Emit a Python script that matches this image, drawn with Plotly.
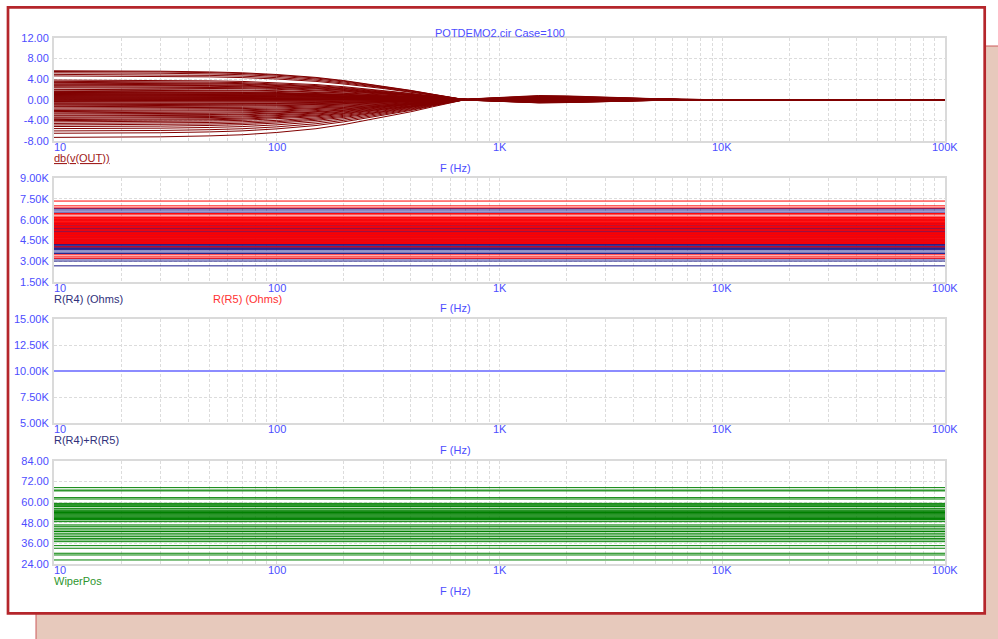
import math
import plotly.graph_objects as go

W, H = 998, 639

# ---------------- data ----------------
freq_hz = [10, 20, 30, 50, 70, 100, 150, 200, 300, 400, 500, 600, 700, 800,
           1000, 1200, 1500, 2000, 2500, 3000, 4000, 5000, 7000, 10000, 100000]
# relative response of each case versus frequency (1 = low-frequency level)
db_shape = [1.0, 0.995, 0.985, 0.96, 0.93, 0.87, 0.77, 0.66, 0.47, 0.32, 0.19, 0.08, 0.0, -0.03,
            -0.06, -0.09, -0.11, -0.10, -0.08, -0.06, -0.035, -0.02, 0.0, 0.0, 0.0]
# low-frequency level of each Monte-Carlo case, dB
db_levels = [5.6, 5.45, 5.2, 4.9, 4.6, 3.8, 3.55, 3.35, 3.2, 3.0, 2.85, 2.7, 2.5, 2.3, 2.0,
             1.85, 1.6, 1.5, 1.4, 1.3, 1.2, 1.1, 1.0, 0.9, 0.8, 0.7, 0.6, 0.5, 0.4, 0.3,
             0.2, 0.1, 0.0, -0.1, -0.2, -0.35, -0.5, -0.7, -0.85, -1.0, -1.2, -1.35, -1.6,
             -1.85, -2.1, -2.3, -2.55, -2.75, -3.0, -3.15, -3.4, -3.6, -3.85, -4.05, -4.3,
             -4.6, -4.9, -5.2, -5.6, -6.05, -6.5, -7.3]
# R5 of each case, ohms (R4 = 10K - R5)
r5_ohms = [7350, 7000, 6850, 6450, 6350, 6200, 6150, 6100, 6050, 6000, 5950, 5900, 5850,
           5800, 5750, 5700, 5650, 5600, 5500, 5450, 5400, 5300, 5250, 5200, 5100, 5050,
           5000, 4950, 4900, 4850, 4800, 4750, 4700, 4650, 4600, 4550, 4500, 4450, 4400,
           4350, 4300, 4260, 4030, 3450, 3300, 3200]
pot_total = 10000
# wiper position of each case
wiper_pos = [68.4, 67.0, 66.5, 62.6, 61.8, 59.3, 58.8, 58.3, 57.8, 57.4, 56.4, 55.5, 55.0,
             54.5, 54.0, 53.5, 53.0, 52.5, 52.0, 51.5, 51.0, 50.5, 50.0, 49.7, 48.7, 46.8,
             46.0, 44.9, 43.9, 43.0, 42.0, 41.0, 40.0, 39.0, 38.1, 37.1, 34.8, 33.3, 30.4,
             29.4, 26.5]

f_start, f_stop = 10, 100000
xtick_vals = [10, 100, 1000, 10000, 100000]
xtick_text = ["10", "100", "1K", "10K", "100K"]

y1_ticks = [-8, -4, 0, 4, 8, 12]
y1_text = ["-8.00", "-4.00", "0.00", "4.00", "8.00", "12.00"]
y2_ticks = [1500, 3000, 4500, 6000, 7500, 9000]
y2_text = ["1.50K", "3.00K", "4.50K", "6.00K", "7.50K", "9.00K"]
y3_ticks = [5000, 7500, 10000, 12500, 15000]
y3_text = ["5.00K", "7.50K", "10.00K", "12.50K", "15.00K"]
y4_ticks = [24, 36, 48, 60, 72, 84]
y4_text = ["24.00", "36.00", "48.00", "60.00", "72.00", "84.00"]

# ---------------- helpers ----------------
def px(x):
    return x / W

def py(y):
    return 1 - y / H

BLUE = "#4d4dff"
GRID = "#dcdcdc"
FRAME = "#dadada"
FONT = "Arial, Liberation Sans, sans-serif"

fig = go.Figure()

# plot 1: db(v(OUT))
xs, ys = [], []
for lv in db_levels:
    xs += freq_hz + [None]
    ys += [lv * s for s in db_shape] + [None]
fig.add_trace(go.Scatter(x=xs, y=ys, mode="lines", line=dict(color="#800000", width=1),
                         xaxis="x", yaxis="y", hoverinfo="skip"))

# plot 2: R(R4) and R(R5)
r4_ohms = [pot_total - v for v in r5_ohms]
xs, ys = [], []
for v in r4_ohms:
    xs += [f_start, f_stop, None]
    ys += [v, v, None]
fig.add_trace(go.Scatter(x=xs, y=ys, mode="lines", line=dict(color="#1a1a8a", width=1),
                         xaxis="x2", yaxis="y2", hoverinfo="skip"))
xs, ys = [], []
for v in r5_ohms:
    xs += [f_start, f_stop, None]
    ys += [v, v, None]
fig.add_trace(go.Scatter(x=xs, y=ys, mode="lines", line=dict(color="#ff0000", width=1),
                         xaxis="x2", yaxis="y2", hoverinfo="skip"))

# plot 3: R(R4)+R(R5)
xs, ys = [], []
for a, b in zip(r4_ohms, r5_ohms):
    xs += [f_start, f_stop, None]
    ys += [a + b, a + b, None]
fig.add_trace(go.Scatter(x=xs, y=ys, mode="lines", line=dict(color="#8c8cff", width=1.5),
                         xaxis="x3", yaxis="y3", hoverinfo="skip"))

# plot 4: WiperPos
xs, ys = [], []
for v in wiper_pos:
    xs += [f_start, f_stop, None]
    ys += [v, v, None]
fig.add_trace(go.Scatter(x=xs, y=ys, mode="lines", line=dict(color="#008000", width=1),
                         xaxis="x4", yaxis="y4", hoverinfo="skip"))

# ---------------- axes ----------------
grid_vals = []
for dec in range(1, 5):
    for m in range(1, 10):
        grid_vals.append(m * 10 ** dec)
grid_vals.append(100000)

x_dom = [px(54), px(945)]
plots = [  # (top px, bottom px, range, ticks, text)
    (37.7, 141.0, [-8, 12], y1_ticks, y1_text),
    (178.3, 281.7, [1500, 9000], y2_ticks, y2_text),
    (319.3, 423.3, [5000, 15000], y3_ticks, y3_text),
    (460.7, 564.3, [24, 84], y4_ticks, y4_text),
]

layout = dict(
    width=W, height=H, autosize=False,
    margin=dict(l=0, r=0, t=0, b=0, pad=0, autoexpand=False),
    paper_bgcolor="white", plot_bgcolor="white",
    showlegend=False,
    font=dict(family=FONT, size=11, color=BLUE),
)
annotations = []
for i, (top, bot, rng, tv, tt) in enumerate(plots, start=1):
    sx = "" if i == 1 else str(i)
    layout["xaxis" + sx] = dict(
        type="log", range=[math.log10(f_start), math.log10(f_stop)], domain=x_dom,
        anchor="y" + sx, tickvals=grid_vals, showticklabels=False, ticks="",
        showgrid=True, gridcolor=GRID, griddash="3px,2px", gridwidth=1, automargin=False,
        showline=True, mirror=True, linecolor=FRAME, linewidth=2, zeroline=False,
        fixedrange=True)
    layout["yaxis" + sx] = dict(
        range=rng, domain=[py(bot), py(top)], anchor="x" + sx,
        tickvals=tv, ticktext=tt, ticks="", ticklabelstandoff=1, automargin=False,
        tickfont=dict(family=FONT, size=11, color=BLUE),
        showgrid=True, gridcolor=GRID, griddash="3px,2px", gridwidth=1,
        showline=True, mirror=True, linecolor=FRAME, linewidth=2, zeroline=False,
        fixedrange=True)
    for v, t in zip(xtick_vals, xtick_text):
        first = v == f_start
        annotations.append(dict(
            x=math.log10(v), xref="x" + sx, y=py(bot), yref="paper",
            text=t, showarrow=False, xanchor="left" if first else "center",
            xshift=-2 if first else 0,
            yanchor="top", yshift=2, font=dict(family=FONT, size=11, color=BLUE)))
    annotations.append(dict(
        x=px(455), xref="paper", y=py(bot + 26.5), yref="paper", text="F (Hz)",
        showarrow=False, xanchor="center", yanchor="middle",
        font=dict(family=FONT, size=11, color=BLUE)))

def label(x, y, text, color):
    annotations.append(dict(x=px(x), xref="paper", y=py(y), yref="paper", text=text,
                            showarrow=False, xanchor="left", yanchor="middle",
                            font=dict(family=FONT, size=11, color=color)))

label(52, 158, "<u>db(v(OUT))</u>", "#a02020")
label(52, 298.5, "R(R4) (Ohms)", "#30307a")
label(210.5, 298.5, "R(R5) (Ohms)", "#ff3030")
label(52, 440, "R(R4)+R(R5)", "#30307a")
label(52, 581, "WiperPos", "#2e962e")

annotations.append(dict(x=px(500), xref="paper", y=py(32.7), yref="paper",
                        text="POTDEMO2.cir Case=100", showarrow=False,
                        xanchor="center", yanchor="middle",
                        font=dict(family=FONT, size=11, color=BLUE)))
layout["annotations"] = annotations

layout["shapes"] = [
    # shadow panel
    dict(type="rect", xref="paper", yref="paper", x0=px(36), x1=px(1000), y0=py(641), y1=py(46),
         fillcolor="#e7c9bc", line=dict(color="#cc5a5a", width=1), layer="below"),
    # main panel
    dict(type="rect", xref="paper", yref="paper", x0=px(8), x1=px(984.7), y0=py(613.3), y1=py(7.3),
         fillcolor="white", line=dict(color="#b5262b", width=2.7), layer="below"),
]

fig.update_layout(**layout)
fig.write_html(
    "out.html",
    config={"displayModeBar": False},
    post_script="document.body.style.margin='0';document.body.style.padding='0';",
)
